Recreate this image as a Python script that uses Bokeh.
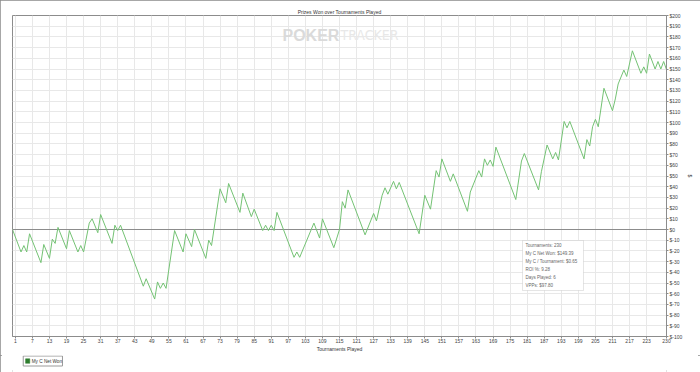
from bokeh.plotting import figure
from bokeh.layouts import column
from bokeh.models import (Range1d, FixedTicker, PrintfTickFormatter, Span, Label,
                          BoxAnnotation)
from bokeh.core.properties import value
from bokeh.embed import file_html
from bokeh.resources import INLINE

# ---------------- data ----------------
tournaments = [0, 3, 4, 5, 6, 10, 11, 13, 14, 15, 16, 19, 20, 23, 24, 25, 27, 28, 30, 31,
               35, 36, 37, 38, 46, 47, 50, 51, 52, 53, 54, 57, 60, 61, 63, 64, 68, 69, 70, 73,
               75, 76, 80, 81, 84, 85, 88, 89, 90, 91, 92, 93, 99, 100, 101, 106, 108, 109, 113, 115,
               116, 117, 118, 124, 127, 128, 130, 131, 132, 134, 135, 136, 143, 145, 147, 149, 150, 151, 154, 155,
               160, 161, 164, 165, 166, 167, 168, 169, 170, 177, 179, 180, 185, 186, 188, 190, 191, 192, 194, 195,
               196, 201, 202, 203, 204, 205, 206, 208, 211, 212, 213, 215, 216, 218, 221, 222, 223, 224, 226, 227,
               228, 229, 230]
net_won = [0, -21, -15, -21, -4, -31, -14, -27, -9, -13, 2, -18, -1, -21, -15, -21, 6, 10, -3, 14,
           -13, 4, -1, 4, -53, -46, -65, -49, -55, -50, -55, -1, -21, -4, -16, 0, -27, -10, -15, 38,
           25, 43, 16, 34, 12, 19, -1, 4, -1, 4, -1, 16, -26, -21, -26, 6, -8, 10, -17, 0,
           26, 20, 37, -5, 15, 8, 32, 39, 33, 45, 38, 44, -4, 32, 19, 55, 49, 66, 45, 52,
           17, 35, 55, 49, 66, 60, 65, 59, 77, 28, 64, 71, 37, 54, 79, 66, 72, 65, 101, 95,
           101, 66, 84, 78, 96, 103, 96, 132, 111, 122, 136, 149, 143, 167, 146, 152, 146, 164, 150, 157,
           150, 157, 149.39]

x_ticks = [1, 7, 13, 19, 25, 31, 37, 43, 49, 55, 61, 67, 73, 79, 85, 91, 97, 103, 109, 115,
           121, 127, 133, 139, 145, 151, 157, 163, 169, 175, 181, 187, 193, 199, 205, 211, 217, 223, 230]
y_ticks = [-100, -90, -80, -70, -60, -50, -40, -30, -20, -10, 0, 10, 20, 30, 40, 50, 60, 70,
           80, 90, 100, 110, 120, 130, 140, 150, 160, 170, 180, 190, 200]

title_text = "Prizes Won over Tournaments Played"
x_label = "Tournaments Played"
y_label = "$"
series_name = "My C Net Won"
info_lines = ["Tournaments: 230", "My C Net Won: $149.39", "My C / Tournament: $0.65",
              "ROI %: 9.28", "Days Played: 6", "VPPs: $97.80"]

# ---------------- layout ----------------
W, H = 700, 372
FL, FR, FT, FB = 12, 666, 15, 336
MAIN_H = 355          # main figure height; the legend strip fills the rest
X0, X1, Y0, Y1 = 0, 230, -100, 200
FONT = "Liberation Sans"
GRAY = "#8c8c8c"


def px_x(px):
    return X0 + (px - FL) / (FR - FL) * (X1 - X0)


def px_y(py):
    return Y1 - (py - FT) / (FB - FT) * (Y1 - Y0)


p = figure(frame_width=FR - FL, frame_height=FB - FT, output_backend="svg", toolbar_location=None,
           x_range=Range1d(X0, X1), y_range=Range1d(Y0, Y1), y_axis_location="right",
           min_border_left=FL, min_border_right=W - FR, min_border_top=FT,
           min_border_bottom=MAIN_H - FB)
p.background_fill_color = "white"
p.border_fill_color = "white"
p.outline_line_color = GRAY
p.outline_line_width = 1

p.title.text = title_text
p.title.align = "center"
p.title.text_font = FONT
p.title.text_font_size = "5px"
p.title.text_font_style = "normal"
p.title.text_color = "#333333"
p.title.standoff = 2
p.title.offset = 11

# axes
p.xaxis.ticker = FixedTicker(ticks=x_ticks)
p.yaxis.ticker = FixedTicker(ticks=y_ticks)
p.yaxis.formatter = PrintfTickFormatter(format="$%d")
for ax in (p.xaxis[0], p.yaxis[0]):
    ax.axis_line_color = GRAY
    ax.major_tick_line_color = GRAY
    ax.major_tick_out = 2
    ax.major_tick_in = 0
    ax.minor_tick_line_color = None
    ax.major_label_text_font = FONT
    ax.major_label_text_font_size = "5px"
    ax.major_label_text_color = "#444444"
    ax.major_label_standoff = 1
    ax.axis_label_text_font = FONT
    ax.axis_label_text_font_size = "5px"
    ax.axis_label_text_font_style = "normal"
    ax.axis_label_text_color = "#333333"
    ax.axis_label_standoff = 1
p.xaxis.axis_label = x_label
p.xaxis.major_label_standoff = 0
p.xaxis.axis_label_standoff = 0
p.yaxis.axis_label = y_label
p.yaxis.axis_label_standoff = 2

p.xgrid.grid_line_color = "#e8e8e8"
p.ygrid.grid_line_color = "#e8e8e8"

# watermark
p.add_layout(Label(x=px_x(282), y=px_y(34.5), text="POKER", text_font=FONT,
                   text_font_size="16px", text_font_style="bold", text_color="#dadada",
                   text_baseline="middle", text_align="left", level="underlay"))
p.add_layout(Label(x=px_x(340), y=px_y(34.5), text="TRACKER",
                   text_font="'DejaVu Sans Condensed', 'Liberation Sans Narrow', 'Liberation Sans'",
                   text_font_size="14px", text_color="#e8e8e8",
                   text_baseline="middle", text_align="left", level="underlay"))

# zero line
p.add_layout(Span(location=0, dimension="width", line_color=GRAY, line_width=1, level="underlay"))

# series
p.line(tournaments, net_won, line_color="#74c274", line_width=1)

# info box
p.add_layout(BoxAnnotation(left=px_x(522), right=px_x(583), top=px_y(240), bottom=px_y(290),
                           fill_color="white", fill_alpha=1.0, line_color="#a8a8a8", line_width=1))
for i, line in enumerate(info_lines):
    p.add_layout(Label(x=px_x(525), y=px_y(245 + i * 8), text=line, text_font=FONT,
                       text_font_size="4.5px", text_color="#666666",
                       text_baseline="middle", text_align="left"))

# ---------------- legend strip (pixel coordinates, y downward) ----------------
LH = H - MAIN_H
leg = figure(width=W, height=LH, output_backend="svg", toolbar_location=None,
             x_range=Range1d(0, W), y_range=Range1d(LH, 0),
             x_axis_type=None, y_axis_type=None, min_border=0)
leg.outline_line_color = None
leg.background_fill_color = "white"
leg.border_fill_color = "white"
leg.xgrid.visible = False
leg.ygrid.visible = False
leg.quad(left=[11.5], right=[53.5], top=[0.5], bottom=[10.5],
         fill_color="white", line_color="#9a9a9a", line_width=1)
leg.quad(left=[14], right=[18.5], top=[3.3], bottom=[7.8],
         fill_color="#2e7d2e", line_color="#2e7d2e", line_width=0.5)
leg.text(x=[20.5], y=[5.6], text=[series_name], text_font=value(FONT),
         text_font_size="4.7px", text_color="#333333", text_baseline="middle", text_align="left")

layout = column(p, leg, spacing=0)
layout.styles = {"outline": "2px solid #8a8a8a", "outline-offset": "-2px"}

open("out.html", "w").write(file_html(layout, INLINE))
